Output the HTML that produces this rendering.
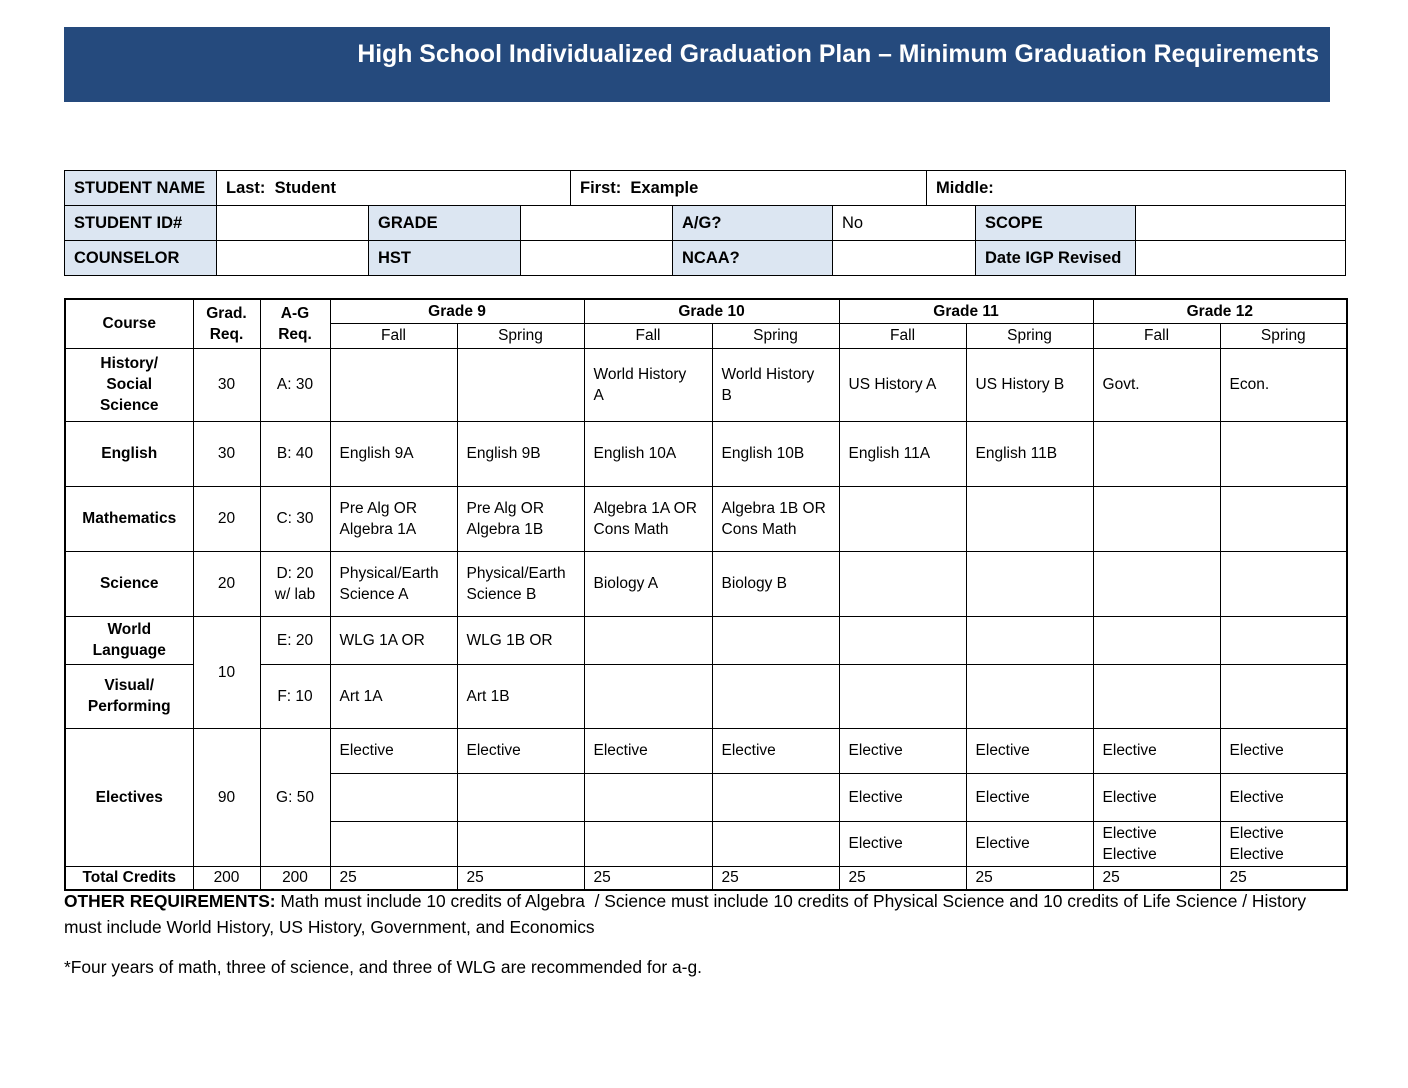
<!DOCTYPE html>
<html><head><meta charset="utf-8"><style>
body{margin:0;background:#fff;width:1408px;height:1088px;position:relative;font-family:"Liberation Sans",sans-serif;color:#000;overflow:hidden}
.hdr{position:absolute;left:64px;top:27px;width:1266px;height:75px;background:#254a7d}
.hdr span{position:absolute;right:11px;top:14px;color:#fff;font-weight:bold;font-size:24.8px;white-space:nowrap}
table{border-collapse:collapse;table-layout:fixed;position:absolute}
td{border:1px solid #000;padding:0 0 0 9px;font-size:15.5px;white-space:nowrap;overflow:hidden}
.t1 td{font-weight:bold;font-size:16.5px}
.b{background:#dce6f2}
.t2 td{padding:0 0 0 9px;line-height:21px}
.c{text-align:center;padding:0!important;font-weight:bold}
.n{text-align:center;padding:0!important}
.note{position:absolute;left:64px;font-size:17.4px;white-space:nowrap}
</style></head><body>
<div class="hdr"><span>High School Individualized Graduation Plan – Minimum Graduation Requirements</span></div>

<table class="t1" style="left:64px;top:170px;width:1281px;border:1.5px solid #000">
<colgroup><col style="width:152px"><col style="width:354px"><col style="width:356px"><col style="width:419px"></colgroup>
<tr style="height:35px"><td class="b">STUDENT NAME</td><td>Last:&nbsp; Student</td><td>First:&nbsp; Example</td><td>Middle:</td></tr>
</table>
<table class="t1" style="left:64px;top:205px;width:1281px">
<colgroup><col style="width:152px"><col style="width:152px"><col style="width:152px"><col style="width:152px"><col style="width:160px"><col style="width:143px"><col style="width:160px"><col style="width:210px"></colgroup>
<tr style="height:35px"><td class="b">STUDENT ID#</td><td></td><td class="b">GRADE</td><td></td><td class="b">A/G?</td><td style="font-weight:normal">No</td><td class="b">SCOPE</td><td></td></tr>
<tr style="height:35px"><td class="b">COUNSELOR</td><td></td><td class="b">HST</td><td></td><td class="b">NCAA?</td><td></td><td class="b">Date IGP Revised</td><td></td></tr>
</table>

<table class="t2" style="left:64px;top:298px;width:1282px;border:2px solid #000">
<colgroup><col style="width:128px"><col style="width:67px"><col style="width:70px"><col style="width:127px"><col style="width:127px"><col style="width:128px"><col style="width:127px"><col style="width:127px"><col style="width:127px"><col style="width:127px"><col style="width:127px"></colgroup>
<tr style="height:24px"><td class="c" rowspan="2">Course</td><td class="c" rowspan="2">Grad.<br>Req.</td><td class="c" rowspan="2">A-G<br>Req.</td><td class="c" colspan="2">Grade 9</td><td class="c" colspan="2">Grade 10</td><td class="c" colspan="2">Grade 11</td><td class="c" colspan="2">Grade 12</td></tr>
<tr style="height:25px"><td class="n">Fall</td><td class="n">Spring</td><td class="n">Fall</td><td class="n">Spring</td><td class="n">Fall</td><td class="n">Spring</td><td class="n">Fall</td><td class="n">Spring</td></tr>
<tr style="height:73px"><td class="c">History/<br>Social<br>Science</td><td class="n">30</td><td class="n">A: 30</td><td></td><td></td><td>World History<br>A</td><td>World History<br>B</td><td>US History A</td><td>US History B</td><td>Govt.</td><td>Econ.</td></tr>
<tr style="height:65px"><td class="c">English</td><td class="n">30</td><td class="n">B: 40</td><td>English 9A</td><td>English 9B</td><td>English 10A</td><td>English 10B</td><td>English 11A</td><td>English 11B</td><td></td><td></td></tr>
<tr style="height:65px"><td class="c">Mathematics</td><td class="n">20</td><td class="n">C: 30</td><td>Pre Alg OR<br>Algebra 1A</td><td>Pre Alg OR<br>Algebra 1B</td><td>Algebra 1A OR<br>Cons Math</td><td>Algebra 1B OR<br>Cons Math</td><td></td><td></td><td></td><td></td></tr>
<tr style="height:65px"><td class="c">Science</td><td class="n">20</td><td class="n">D: 20<br>w/ lab</td><td>Physical/Earth<br>Science A</td><td>Physical/Earth<br>Science B</td><td>Biology A</td><td>Biology B</td><td></td><td></td><td></td><td></td></tr>
<tr style="height:48px"><td class="c">World<br>Language</td><td class="n" rowspan="2">10</td><td class="n">E: 20</td><td>WLG 1A OR</td><td>WLG 1B OR</td><td></td><td></td><td></td><td></td><td></td><td></td></tr>
<tr style="height:64px"><td class="c">Visual/<br>Performing</td><td class="n">F: 10</td><td>Art 1A</td><td>Art 1B</td><td></td><td></td><td></td><td></td><td></td><td></td></tr>
<tr style="height:45px"><td class="c" rowspan="3">Electives</td><td class="n" rowspan="3">90</td><td class="n" rowspan="3">G: 50</td><td>Elective</td><td>Elective</td><td>Elective</td><td>Elective</td><td>Elective</td><td>Elective</td><td>Elective</td><td>Elective</td></tr>
<tr style="height:48px"><td></td><td></td><td></td><td></td><td>Elective</td><td>Elective</td><td>Elective</td><td>Elective</td></tr>
<tr style="height:45px"><td></td><td></td><td></td><td></td><td>Elective</td><td>Elective</td><td>Elective<br>Elective</td><td>Elective<br>Elective</td></tr>
<tr style="height:24px"><td class="c">Total Credits</td><td class="n">200</td><td class="n">200</td><td>25</td><td>25</td><td>25</td><td>25</td><td>25</td><td>25</td><td>25</td><td>25</td></tr>
</table>

<div class="note" style="top:891px"><b>OTHER REQUIREMENTS:</b> Math must include 10 credits of Algebra&nbsp; / Science must include 10 credits of Physical Science and 10 credits of Life Science / History</div>
<div class="note" style="top:917px">must include World History, US History, Government, and Economics</div>
<div class="note" style="top:957px">*Four years of math, three of science, and three of WLG are recommended for a-g.</div>
</body></html>
